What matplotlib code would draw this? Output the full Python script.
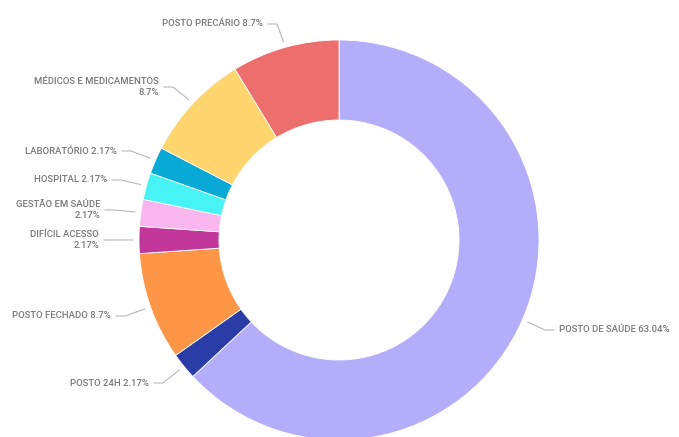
import numpy as np
import matplotlib
matplotlib.use("Agg")
import matplotlib.pyplot as plt

categories = ["POSTO DE SAÚDE", "POSTO 24H", "POSTO FECHADO", "DIFÍCIL ACESSO",
              "GESTÃO EM SAÚDE", "HOSPITAL", "LABORATÓRIO",
              "MÉDICOS E MEDICAMENTOS", "POSTO PRECÁRIO"]
values = [63.04, 2.17, 8.7, 2.17, 2.17, 2.17, 2.17, 8.7, 8.7]
value_labels = ["63.04%", "2.17%", "8.7%", "2.17%", "2.17%", "2.17%", "2.17%", "8.7%", "8.7%"]
colors = ["#B4AEFA", "#2A3DA6", "#FE9647", "#C2389A", "#F8B5EE",
          "#47F3F5", "#08A9D5", "#FED56E", "#EC6F6E"]
two_line = [False, False, False, True, True, False, False, True, False]

W, H = 679, 437
fig = plt.figure(figsize=(W / 100, H / 100), dpi=100)
ax = fig.add_axes([0, 0, 1, 1])

cx, cy, R = 339, H - 240, 200
wedges, _ = ax.pie(values, colors=colors, startangle=90, counterclock=False,
                   center=(cx, cy), radius=R, frame=True,
                   wedgeprops=dict(width=R * 0.4, edgecolor="white", linewidth=0.6))
ax.set_xlim(0, W)
ax.set_ylim(0, H)
ax.set_aspect("equal")
ax.axis("off")

# label layout (pixel coords, y from top): text anchor x, y, side
label_pos = [(559, 330, "left"), (149, 383, "right"), (111, 316, "right"),
             (99, 240, "right"), (100, 210, "right"), (107, 180, "right"),
             (117, 151, "right"), (159, 87, "right"), (263, 24, "right")]

txt_color = "#787878"
line_color = "#b8b8b8"
for w, cat, vl, tl, (tx, ty, side) in zip(wedges, categories, value_labels, two_line, label_pos):
    ang = np.deg2rad((w.theta1 + w.theta2) / 2)
    p0 = (cx + 1.03 * R * np.cos(ang), cy + 1.03 * R * np.sin(ang))
    ty_d = H - ty
    sgn = 1 if side == "right" else -1
    p2 = (tx + sgn * 5, ty_d)
    p1 = (tx + sgn * 14, ty_d)
    ax.plot([p0[0], p1[0], p2[0]], [p0[1], p1[1], p2[1]], color=line_color, lw=0.8)
    label = f"{cat}\n{vl}" if tl else f"{cat} {vl}"
    ax.text(tx, ty_d, label, ha=side, va="center", multialignment=side,
            fontsize=6.8, color=txt_color, family=["Roboto", "DejaVu Sans"],
            fontweight="medium", linespacing=1.2)

fig.savefig("out.png", dpi=100, facecolor="white")
